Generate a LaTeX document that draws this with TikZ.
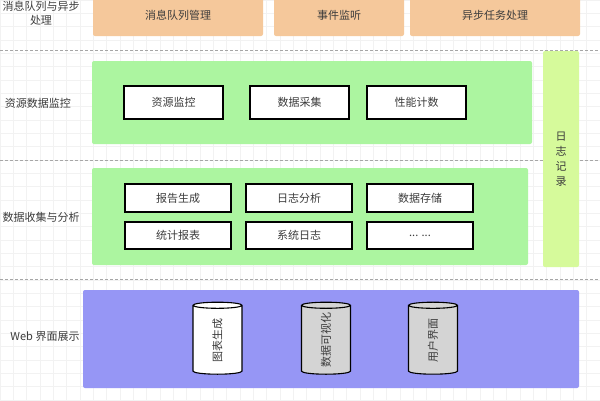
\documentclass[tikz,border=0pt]{standalone}
\usepackage{fontspec}
\setmainfont{Noto Sans CJK SC}
\usetikzlibrary{shapes.geometric}

\definecolor{queueorange}{RGB}{245,200,155}
\definecolor{layergreen}{RGB}{172,245,160}
\definecolor{loggreen}{RGB}{214,250,155}
\definecolor{webblue}{RGB}{150,150,245}
\definecolor{dbgray}{RGB}{212,212,212}
\definecolor{textgray}{RGB}{60,60,60}

\tikzset{
  layerbox/.style={rounded corners=2pt, inner sep=0pt, text=textgray,
    font=\fontsize{11}{13}\selectfont},
  itembox/.style={draw=black, line width=1.3pt, fill=white, inner sep=0pt,
    text=textgray, font=\fontsize{11}{13}\selectfont},
  layerlabel/.style={text=textgray, align=center, inner sep=0pt,
    font=\fontsize{11}{14}\selectfont},
  dbcyl/.style={cylinder, rotate=90, draw=black, line width=1.1pt,
    minimum width=49pt, minimum height=72pt, aspect=0.6, inner sep=0pt,
    text=textgray, font=\fontsize{11}{13}\selectfont},
  sepline/.style={gray!70, dash pattern=on 3pt off 2pt, line width=0.6pt}
}

\begin{document}
\begin{tikzpicture}[x=1pt, y=-1pt]
\useasboundingbox (0,0) rectangle (600,400);
\fill[white] (0,0) rectangle (600,400);
\draw[gray!10, step=13.33pt] (0,0) grid (600,400);

% separators
\draw[sepline] (0,50) -- (600,50);
\draw[sepline] (0,160) -- (600,160);
\draw[sepline] (0,279) -- (600,279);

% message queue layer
\node[layerlabel] (queuelbl) at (41,13) {消息队列与异步\\处理};
\node[layerbox, fill=queueorange, minimum width=170pt, minimum height=42pt] (mqmgr) at (178,15) {消息队列管理};
\node[layerbox, fill=queueorange, minimum width=130pt, minimum height=42pt] (evlisten) at (339,15) {事件监听};
\node[layerbox, fill=queueorange, minimum width=170pt, minimum height=42pt] (asynctask) at (495,15) {异步任务处理};

% log column
\node[layerbox, fill=loggreen, minimum width=36pt, minimum height=216pt, align=center,
  font=\fontsize{11}{15}\selectfont] (logcol) at (561,159) {日\\志\\记\\录};

% resource monitoring layer
\node[layerlabel] (monlbl) at (38,103) {资源数据监控};
\node[layerbox, fill=layergreen, minimum width=440pt, minimum height=83pt] (monlayer) at (312,102.5) {};
\node[itembox, minimum width=99pt, minimum height=33pt] (resmon) at (173.5,102.5) {资源监控};
\node[itembox, minimum width=99pt, minimum height=33pt] (datacol) at (299.5,102.5) {数据采集};
\node[itembox, minimum width=99pt, minimum height=33pt] (perfcnt) at (416.5,102.5) {性能计数};

% collection and analysis layer
\node[layerlabel] (analbl) at (41,217) {数据收集与分析};
\node[layerbox, fill=layergreen, minimum width=436pt, minimum height=97pt] (analayer) at (310,216.5) {};
\node[itembox, minimum width=106pt, minimum height=28pt] (report) at (178,198) {报告生成};
\node[itembox, minimum width=106pt, minimum height=28pt] (loganl) at (299,198) {日志分析};
\node[itembox, minimum width=106pt, minimum height=28pt] (store) at (420,198) {数据存储};
\node[itembox, minimum width=106pt, minimum height=27pt] (stats) at (178,235.5) {统计报表};
\node[itembox, minimum width=106pt, minimum height=27pt] (syslog) at (299,235.5) {系统日志};
\node[itembox, minimum width=106pt, minimum height=27pt] (more) at (420,235.5) {... ...};

% web layer
\node[layerlabel] (weblbl) at (45,337) {Web 界面展示};
\node[layerbox, fill=webblue, minimum width=496pt, minimum height=98pt] (weblayer) at (331,339) {};
\node[dbcyl, fill=white] (chart) at (217.5,340) {图表生成};
\node[dbcyl, fill=dbgray] (visual) at (326,340) {数据可视化};
\node[dbcyl, fill=dbgray] (ui) at (433,340) {用户界面};
\end{tikzpicture}
\end{document}
